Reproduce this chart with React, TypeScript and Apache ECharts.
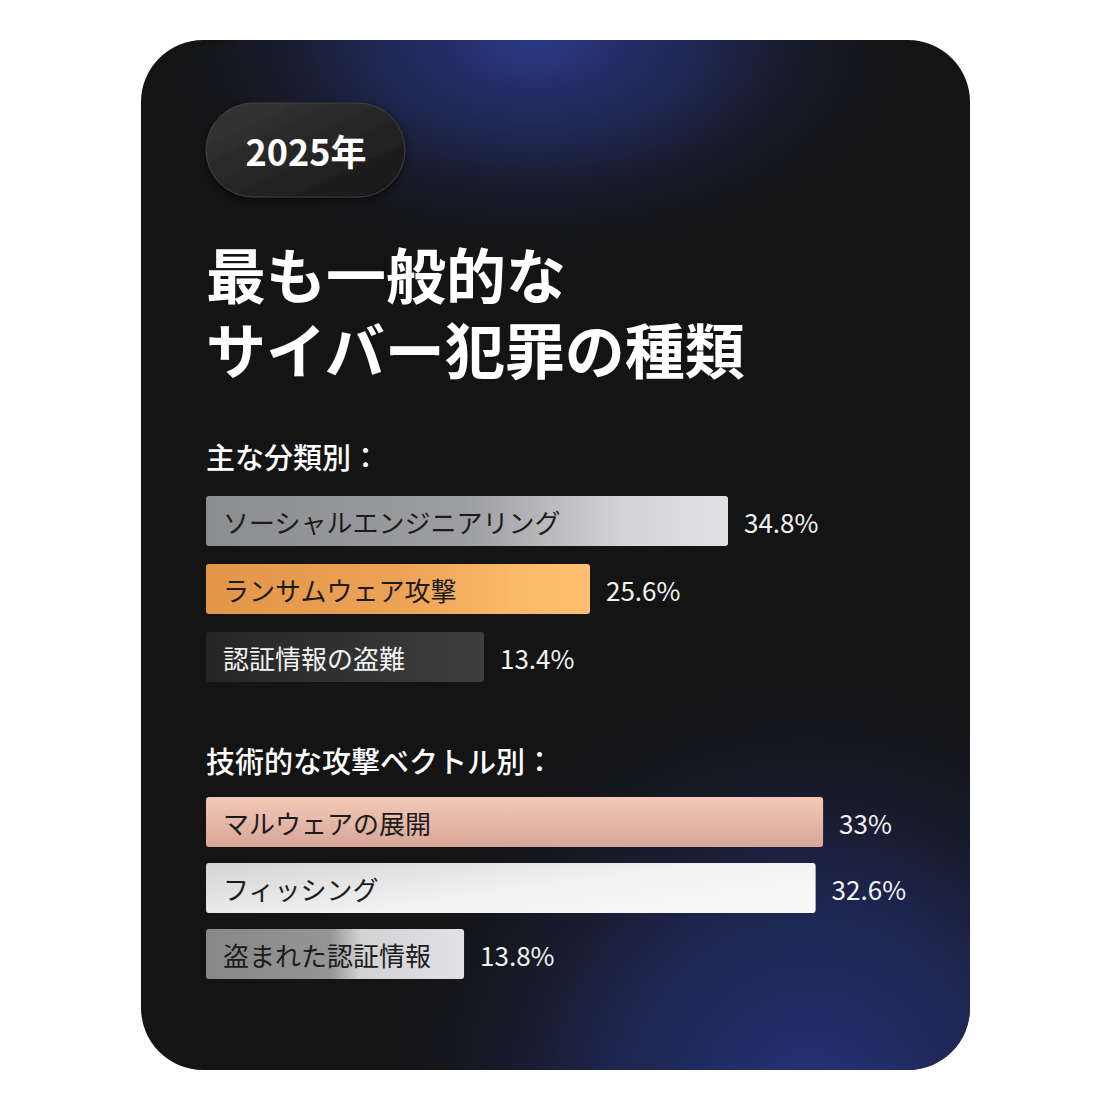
import React, { useEffect, useRef } from "react";
import * as echarts from "echarts";

const badgeText = "2025年";
const titleLines = ["最も一般的な", "サイバー犯罪の種類"];
const sectionTitles = ["主な分類別：", "技術的な攻撃ベクトル別："];

const categoriesA = ["ソーシャルエンジニアリング", "ランサムウェア攻撃", "認証情報の盗難"];
const valuesA = [34.8, 25.6, 13.4];
const categoriesB = ["マルウェアの展開", "フィッシング", "盗まれた認証情報"];
const valuesB = [33, 32.6, 13.8];

const FONT = '"Noto Sans CJK JP", "Noto Sans", sans-serif';

const lg = (x2: number, y2: number, stops: [number, string][]) =>
  new echarts.graphic.LinearGradient(0, 0, x2, y2, stops.map(([offset, color]) => ({ offset, color })));

const stylesA = [
  { fill: lg(1, 0, [[0, "#8c8d90"], [0.5, "#9d9ea1"], [0.8, "#d4d4d6"], [1, "#e2e2e4"]]), text: "#1c1c1c" },
  { fill: lg(1, 0, [[0, "#e1964a"], [0.5, "#eca255"], [0.8, "#fbb96b"], [1, "#febf70"]]), text: "#1c1c1c" },
  { fill: lg(1, 0, [[0, "#252525"], [1, "#3e3e3e"]]), text: "#f2f2f2" },
];
const stylesB = [
  { fill: lg(0, 1, [[0, "#f4c9b8"], [1, "#d6a698"]]), text: "#1c1c1c" },
  { fill: lg(1, 0.6, [[0, "#d4d4d4"], [0.6, "#f1f1f1"], [1, "#f8f8f8"]]), text: "#1c1c1c" },
  { fill: lg(1, 0, [[0, "#888888"], [0.48, "#959595"], [0.6, "#d2d2d4"], [1, "#e2e2e4"]]), text: "#1c1c1c" },
];

function makeSeries(
  gridIndex: number,
  cats: string[],
  vals: number[],
  styles: { fill: any; text: string }[],
  minH: number
) {
  const base = {
    type: "bar",
    xAxisIndex: gridIndex,
    yAxisIndex: gridIndex,
    barWidth: 50,
    barGap: "-100%",
    barMinHeight: minH,
    silent: true,
  };
  return [
    {
      ...base,
      data: vals.map((v, i) => ({
        value: v,
        itemStyle: { color: styles[i].fill, borderRadius: 3 },
        label: { color: styles[i].text },
      })),
      label: {
        show: true,
        position: "insideLeft",
        distance: 17,
        formatter: (p: any) => cats[p.dataIndex],
        fontFamily: FONT,
        fontSize: 26,
      },
    },
    {
      ...base,
      data: vals,
      itemStyle: { color: "rgba(0,0,0,0)" },
      label: {
        show: true,
        position: "right",
        distance: 16,
        formatter: (p: any) => `${p.value}%`,
        color: "#f2f2f2",
        fontFamily: FONT,
        fontSize: 26,
      },
    },
  ];
}

export default function App() {
  const ref = useRef<HTMLDivElement>(null);
  useEffect(() => {
    document.body.style.margin = "0";
    const chart = echarts.init(ref.current!, null, { renderer: "svg" });
    const card = { x: 141, y: 40, width: 829, height: 1030, r: 62 };
    const sTop = 0.58;
    const hTop = 480;
    chart.setOption({
      animation: false,
      backgroundColor: "#ffffff",
      graphic: [
        { type: "rect", z: -10, shape: card, style: { fill: "#141414" }, silent: true },
        {
          type: "rect",
          z: -9,
          x: 0,
          y: 40,
          scaleY: sTop,
          shape: { x: 141, y: 0, width: 829, height: hTop / sTop, r: [62 / sTop, 62 / sTop, 0, 0] },
          silent: true,
          style: {
            fill: {
              type: "radial",
              x: (535 - 141) / 829,
              y: 0,
              r: 440 / 827,
              colorStops: [
                { offset: 0, color: "rgba(42,57,135,1)" },
                { offset: 0.4, color: "rgba(34,45,102,0.7)" },
                { offset: 0.95, color: "rgba(20,20,20,0)" },
              ],
            },
          },
        },
        {
          type: "rect",
          z: -9,
          shape: card,
          silent: true,
          style: {
            fill: {
              type: "radial",
              x: 810,
              y: 1100,
              r: 470,
              global: true,
              colorStops: [
                { offset: 0, color: "rgba(38,51,122,1)" },
                { offset: 0.45, color: "rgba(32,42,95,0.75)" },
                { offset: 1, color: "rgba(20,20,20,0)" },
              ],
            },
          },
        },
        {
          type: "rect",
          z: 1,
          shape: { x: 206, y: 103, width: 199, height: 94, r: 47 },
          style: {
            fill: lg(1, 1, [[0, "#373737"], [1, "#161616"]]),
            stroke: "rgba(70,70,70,0.8)",
            lineWidth: 1,
            shadowBlur: 8,
            shadowOffsetY: 3,
            shadowColor: "rgba(0,0,0,0.6)",
          },
          silent: true,
        },
        {
          type: "text",
          z: 2,
          x: 306,
          y: 150,
          style: {
            text: badgeText,
            fill: "#ffffff",
            font: `bold 36px ${FONT}`,
            textAlign: "center",
            textVerticalAlign: "middle",
          },
        },
        {
          type: "text",
          z: 2,
          x: 206,
          y: 235,
          style: {
            text: titleLines.join("\n"),
            fill: "#ffffff",
            font: `bold 60px ${FONT}`,
            lineHeight: 75,
            textAlign: "left",
            textVerticalAlign: "top",
          },
        },
        ...sectionTitles.map((t, i) => ({
          type: "text",
          z: 2,
          x: 206,
          y: [456, 760][i],
          style: {
            text: t,
            fill: "#ffffff",
            font: `500 29px ${FONT}`,
            textAlign: "left",
            textVerticalAlign: "middle",
          },
        })),
      ],
      grid: [
        { left: 206, top: 487, width: 600, height: 204 },
        { left: 206, top: 789, width: 748, height: 198 },
      ],
      xAxis: [
        { type: "value", gridIndex: 0, min: 0, max: 40, show: false },
        { type: "value", gridIndex: 1, min: 0, max: 40, show: false },
      ],
      yAxis: [
        { type: "category", gridIndex: 0, data: categoriesA, inverse: true, show: false },
        { type: "category", gridIndex: 1, data: categoriesB, inverse: true, show: false },
      ],
      series: [
        ...makeSeries(0, categoriesA, valuesA, stylesA, 278),
        ...makeSeries(1, categoriesB, valuesB, stylesB, 0),
      ],
    });
    return () => chart.dispose();
  }, []);
  return <div ref={ref} style={{ width: 1111, height: 1110, position: "absolute", left: 0, top: 0 }} />;
}
